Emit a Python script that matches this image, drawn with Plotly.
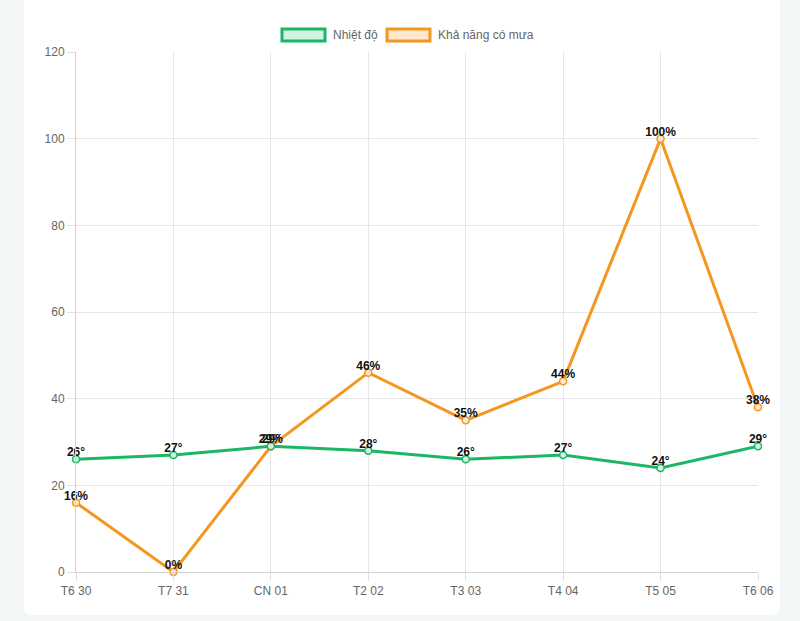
import plotly.graph_objects as go

categories = ["T6 30", "T7 31", "CN 01", "T2 02", "T3 03", "T4 04", "T5 05", "T6 06"]
temperature = [26, 27, 29, 28, 26, 27, 24, 29]
rain_chance = [16, 0, 29, 46, 35, 44, 100, 38]
series_names = ["Nhiệt độ", "Khả năng có mưa"]

GREEN = "#1bb764"
ORANGE = "#f5961f"
W, H = 800, 621
L, R, T, B = 76, 42, 52, 49
pw, ph = W - L - R, H - T - B

def px(x):
    return (x - L) / pw

def py(y):
    return (H - B - y) / ph

fig = go.Figure()

series = [
    (rain_chance, series_names[1], ORANGE, "#fde9cf", [f"{v}%" for v in rain_chance]),
    (temperature, series_names[0], GREEN, "#d2f1e0", [f"{v}°" for v in temperature]),
]
for vals, name, c, fc, labels in series:
    fig.add_trace(go.Scatter(
        x=categories, y=vals, name=name, mode="lines+markers",
        line=dict(color=c, width=3),
        marker=dict(size=7, color=fc, line=dict(color=c, width=1.5)),
        cliponaxis=False, showlegend=False, hoverinfo="x+y",
    ))
for vals, name, c, fc, labels in series:
    fig.add_trace(go.Scatter(
        x=categories, y=vals, mode="text", text=labels,
        texttemplate="<b>%{text}</b>", textposition="top center",
        textfont=dict(family="Liberation Sans, Arial", size=12, color="#111"),
        cliponaxis=False, showlegend=False, hoverinfo="skip",
    ))

r = 8
x0, x1 = px(24), px(780)
y0, y1 = py(615), py(-10)
rx, ry = r / pw, r / ph
card_path = (f"M {x0} {y1} L {x1} {y1} L {x1} {y0+ry} Q {x1} {y0} {x1-rx} {y0} "
             f"L {x0+rx} {y0} Q {x0} {y0} {x0} {y0+ry} Z")

shapes = [dict(type="path", xref="paper", yref="paper", path=card_path,
               fillcolor="white", line=dict(width=0), layer="below")]
legend_items = [(282, 325, 331, GREEN, "#d2f1e0", series_names[0]),
                (387, 430, 436, ORANGE, "#fde9cf", series_names[1])]
annotations = []
for bx0, bx1, tx, c, fc, name in legend_items:
    shapes.append(dict(type="rect", xref="paper", yref="paper",
                       x0=px(bx0), x1=px(bx1), y0=py(41), y1=py(29),
                       fillcolor=fc, line=dict(color=c, width=3)))
    annotations.append(dict(xref="paper", yref="paper", x=px(tx), y=py(35),
                            text=name, showarrow=False, xanchor="left", yanchor="middle",
                            font=dict(family="Liberation Sans, Arial", size=12, color="#666")))

fig.update_layout(
    width=W, height=H,
    margin=dict(l=L, r=R, t=T, b=B),
    paper_bgcolor="#f3f6f7", plot_bgcolor="white",
    shapes=shapes, annotations=annotations,
    font=dict(family="Liberation Sans, Arial", size=12, color="#666"),
    showlegend=False,
)
fig.update_xaxes(type="category", range=[0, 7], showgrid=True, gridcolor="#e6e6e6",
                 showline=True, linecolor="#d0d0d0", ticks="outside", ticklen=8,
                 tickcolor="#e0e0e0", zeroline=False,
                 tickfont=dict(size=12, color="#666"))
fig.update_yaxes(range=[0, 120], dtick=20, showgrid=True, gridcolor="#e6e6e6",
                 showline=True, linecolor="#d0d0d0", ticks="outside", ticklen=8,
                 tickcolor="#e0e0e0", zeroline=False,
                 tickfont=dict(size=12, color="#666"))

fig.write_html("out.html", config={"displayModeBar": False},
               post_script="document.body.style.margin='0';document.body.style.background='#f3f6f7';")
